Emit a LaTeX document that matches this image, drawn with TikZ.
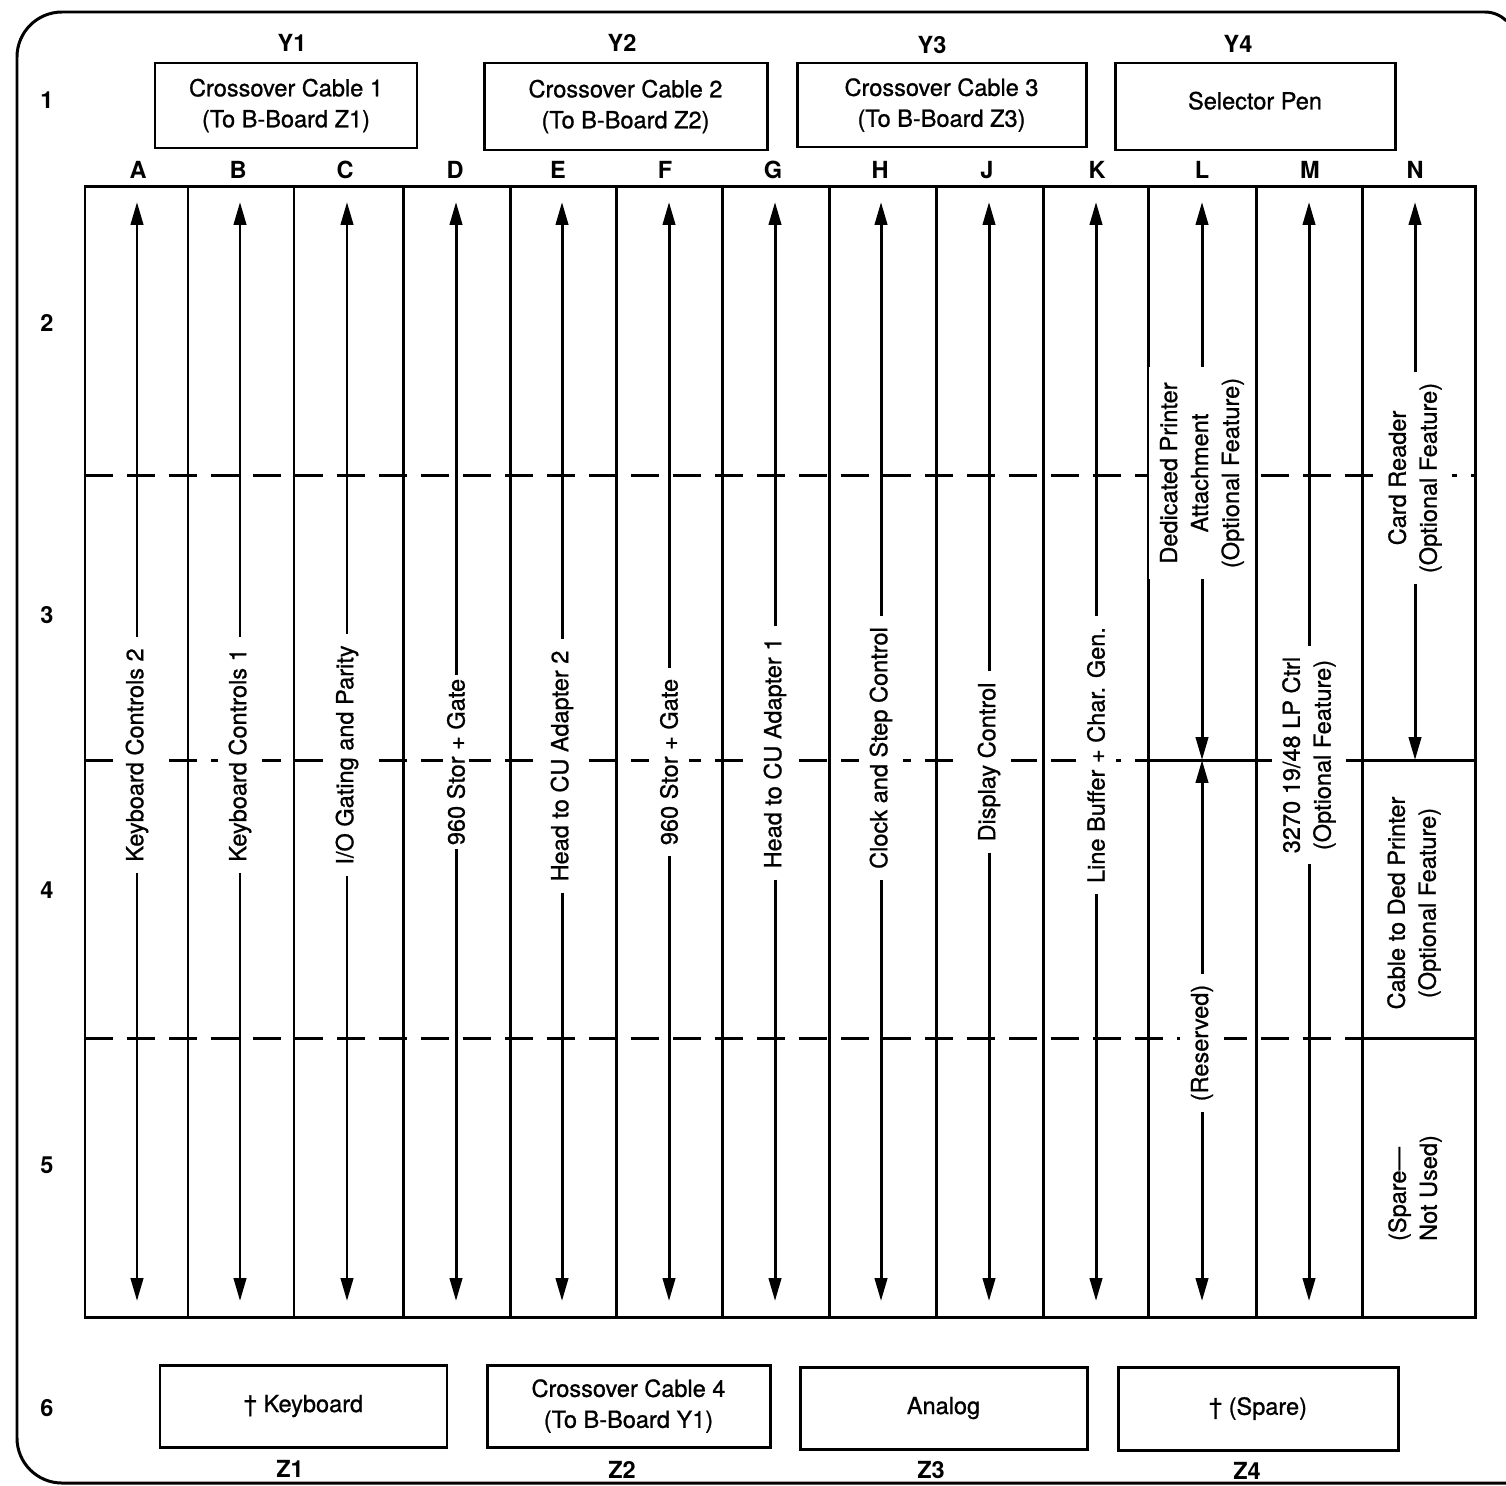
\documentclass[tikz,border=0pt]{standalone}
\usepackage{fontspec}
\setmainfont{TeX Gyre Heros}
\newfontfamily\boardface{TeX Gyre Heros}[Ligatures=TeX,FakeBold=0.9]
\usepackage{tikz}
\usetikzlibrary{arrows.meta}
\newcommand{\boardfont}{\boardface\fontsize{6.7pt}{8.8pt}\selectfont}
\newcommand{\pinfont}{\rmfamily\bfseries\fontsize{6.7pt}{8.8pt}\selectfont}

\begin{document}
\begin{tikzpicture}[x=0.1mm,y=-0.1mm,
    frame/.style={line width=0.85pt},
    grid/.style={line width=0.85pt},
    cut/.style={line width=0.85pt,dash pattern=on 2.8mm off 1.4mm},
    feed/.style={line width=0.85pt,-{Triangle[length=6.5pt,width=3.5pt]}},
    cable/.style={draw,line width=0.85pt,font=\boardfont,align=center,inner sep=0pt},
    vlab/.style={rotate=90,fill=white,inner sep=3pt,font=\boardfont,align=center},
    pin/.style={font=\pinfont,inner sep=0pt}]
  \useasboundingbox (0,0) rectangle (1506,1485);

  % outer board outline
  \draw[frame,rounded corners=4.5mm] (1506,1483) -| (17,12) -- (1485,12);
  \draw[frame] (1485,12) arc[start angle=90,end angle=45,radius=3mm];

  % row numbers
  \node[pin] (row1) at (47,100) {1};
  \node[pin] (row2) at (47,323) {2};
  \node[pin] (row3) at (47,615) {3};
  \node[pin] (row4) at (47,890) {4};
  \node[pin] (row5) at (47,1165) {5};
  \node[pin] (row6) at (47,1408) {6};

  % top cables
  \node[cable,minimum width=2.62cm,minimum height=0.85cm] (y1) at (286,105.5)
    {Crossover Cable 1\\(To B-Board Z1)};
  \node[cable,minimum width=2.83cm,minimum height=0.87cm] (y2) at (625.5,106.5)
    {Crossover Cable 2\\(To B-Board Z2)};
  \node[cable,minimum width=2.89cm,minimum height=0.84cm] (y3) at (941.5,105)
    {Crossover Cable 3\\(To B-Board Z3)};
  \node[cable,minimum width=2.80cm,minimum height=0.87cm] (y4) at (1255,106.5)
    {\raisebox{1.2mm}{Selector Pen}};
  \node[pin] (y1lab) at (292,43) {Y1};
  \node[pin] (y2lab) at (622,43) {Y2};
  \node[pin] (y3lab) at (932,45) {Y3};
  \node[pin] (y4lab) at (1238,44) {Y4};

  % bottom cables
  \node[cable,minimum width=2.87cm,minimum height=0.82cm] (z1) at (303.5,1406)
    {† Keyboard};
  \node[cable,minimum width=2.83cm,minimum height=0.82cm] (z2) at (628.5,1406)
    {Crossover Cable 4\\(To B-Board Y1)};
  \node[cable,minimum width=2.87cm,minimum height=0.82cm] (z3) at (943.5,1408)
    {Analog};
  \node[cable,minimum width=2.80cm,minimum height=0.83cm] (z4) at (1258,1408.5)
    {† (Spare)};
  \node[pin] (z1lab) at (290,1469) {Z1};
  \node[pin] (z2lab) at (622,1470) {Z2};
  \node[pin] (z3lab) at (931,1470) {Z3};
  \node[pin] (z4lab) at (1247,1471) {Z4};

  % column letters
  \node[pin] (colA) at (138,170) {A};
  \node[pin] (colB) at (238,170) {B};
  \node[pin] (colC) at (345,170) {C};
  \node[pin] (colD) at (455,170) {D};
  \node[pin] (colE) at (558,170) {E};
  \node[pin] (colF) at (665,170) {F};
  \node[pin] (colG) at (773,170) {G};
  \node[pin] (colH) at (880,170) {H};
  \node[pin] (colJ) at (987,170) {J};
  \node[pin] (colK) at (1097,170) {K};
  \node[pin] (colL) at (1202,170) {L};
  \node[pin] (colM) at (1310,170) {M};
  \node[pin] (colN) at (1415,170) {N};

  % card grid
  \draw[grid] (85,186) rectangle (1475,1317);
  \draw[grid] (188,186) -- (188,1317) (294,186) -- (294,1317)
    (403,186) -- (403,1317) (510,186) -- (510,1317)
    (616,186) -- (616,1317) (722,186) -- (722,1317)
    (829,186) -- (829,1317) (936,186) -- (936,1317)
    (1043,186) -- (1043,1317) (1148,186) -- (1148,1317)
    (1256,186) -- (1256,1317) (1362,186) -- (1362,1317);
  \draw[cut] (85,475) -- (1475,475);
  \draw[cut] (85,760) -- (1148,760);
  \draw[grid] (1148,760) -- (1256,760);
  \draw[cut] (1256,760) -- (1362,760);
  \draw[grid] (1362,760) -- (1475,760);
  \draw[cut] (85,1038) -- (1362,1038);
  \draw[grid] (1362,1038) -- (1475,1038);

  % column A
  \coordinate (a-top) at (137,202);
  \coordinate (a-bot) at (137,1301);
  \node[vlab] (a-lab) at (137,755) {Keyboard Controls 2};
  \draw[feed] (a-lab) -- (a-top);
  \draw[feed] (a-lab) -- (a-bot);
  % column B
  \coordinate (b-top) at (240,202);
  \coordinate (b-bot) at (240,1301);
  \node[vlab] (b-lab) at (240,755) {Keyboard Controls 1};
  \draw[feed] (b-lab) -- (b-top);
  \draw[feed] (b-lab) -- (b-bot);
  % column C
  \coordinate (c-top) at (347,202);
  \coordinate (c-bot) at (347,1301);
  \node[vlab] (c-lab) at (347,755) {I/O Gating and Parity};
  \draw[feed] (c-lab) -- (c-top);
  \draw[feed] (c-lab) -- (c-bot);
  % column D
  \coordinate (d-top) at (456,202);
  \coordinate (d-bot) at (456,1301);
  \node[vlab,inner sep=1pt] (d-lab) at (456,762) {960 Stor + Gate};
  \draw[feed] (d-lab) -- (d-top);
  \draw[feed] (d-lab) -- (d-bot);
  % column E
  \coordinate (e-top) at (562,202);
  \coordinate (e-bot) at (562,1301);
  \node[vlab] (e-lab) at (562,766) {Head to CU Adapter 2};
  \draw[feed] (e-lab) -- (e-top);
  \draw[feed] (e-lab) -- (e-bot);
  % column F
  \coordinate (f-top) at (669,202);
  \coordinate (f-bot) at (669,1301);
  \node[vlab] (f-lab) at (669,762) {960 Stor + Gate};
  \draw[feed] (f-lab) -- (f-top);
  \draw[feed] (f-lab) -- (f-bot);
  % column G
  \coordinate (g-top) at (775,202);
  \coordinate (g-bot) at (775,1301);
  \node[vlab] (g-lab) at (775,753) {Head to CU Adapter 1};
  \draw[feed] (g-lab) -- (g-top);
  \draw[feed] (g-lab) -- (g-bot);
  % column H
  \coordinate (h-top) at (881,202);
  \coordinate (h-bot) at (881,1301);
  \node[vlab] (h-lab) at (881,748) {Clock and Step Control};
  \draw[feed] (h-lab) -- (h-top);
  \draw[feed] (h-lab) -- (h-bot);
  % column J
  \coordinate (j-top) at (989,202);
  \coordinate (j-bot) at (989,1301);
  \node[vlab] (j-lab) at (989,762) {Display Control};
  \draw[feed] (j-lab) -- (j-top);
  \draw[feed] (j-lab) -- (j-bot);
  % column K
  \coordinate (k-top) at (1096,202);
  \coordinate (k-bot) at (1096,1301);
  \node[vlab] (k-lab) at (1096,755) {Line Buffer + Char. Gen.};
  \draw[feed] (k-lab) -- (k-top);
  \draw[feed] (k-lab) -- (k-bot);
  % column L
  \coordinate (l-top) at (1202,202);
  \coordinate (l-mid) at (1202,760);
  \coordinate (l-bot) at (1202,1301);
  \node[vlab] (l-lab) at (1202,473)
    {Dedicated Printer\\Attachment\\(Optional Feature)};
  \node[vlab] (l-res) at (1202,1043) {(Reserved)};
  \draw[feed] (l-lab) -- (l-top);
  \draw[feed] (l-lab) -- (l-mid);
  \draw[feed] (l-res) -- (l-mid);
  \draw[feed] (l-res) -- (l-bot);
  % column M
  \coordinate (m-top) at (1309,202);
  \coordinate (m-bot) at (1309,1301);
  \node[vlab] (m-lab) at (1309,755) {3270 19/48 LP Ctrl\\(Optional Feature)};
  \draw[feed] (m-lab) -- (m-top);
  \draw[feed] (m-lab) -- (m-bot);
  % column N
  \coordinate (n-top) at (1415,202);
  \coordinate (n-mid) at (1415,760);
  \node[vlab] (n-lab) at (1415,478) {Card Reader\\(Optional Feature)};
  \draw[feed] (n-lab) -- (n-top);
  \draw[feed] (n-lab) -- (n-mid);
  \node[vlab] (n-cab) at (1414,903) {Cable to Ded Printer\\(Optional Feature)};
  \node[vlab,align=left] (n-spare) at (1415,1188) {(Spare—\\Not Used)};
\end{tikzpicture}
\end{document}
